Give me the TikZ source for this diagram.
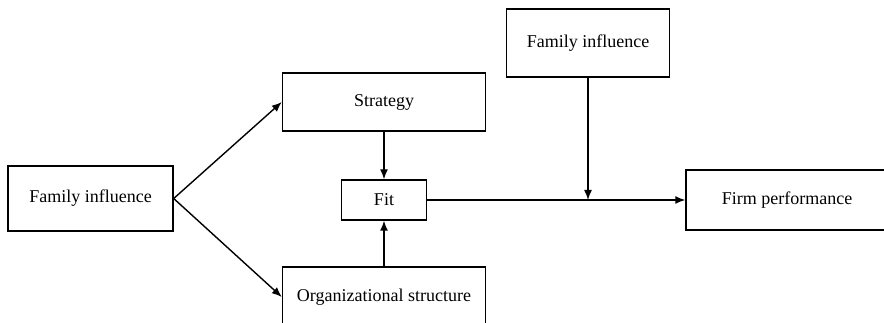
\documentclass[tikz,border=0pt]{standalone}
\usepackage{fontspec}
\setmainfont{Liberation Serif}
\usetikzlibrary{arrows.meta}
\begin{document}
\begin{tikzpicture}[x=1pt,y=-1pt,
  box/.style={draw,line width=1.4pt,inner sep=0pt,font=\fontsize{18}{21}\selectfont},
  link/.style={line width=1.4pt,-{Latex[length=10pt,width=8pt]}}]
  \useasboundingbox (0,0) rectangle (884,323);
  \clip (0,0) rectangle (884,323);
  \node[box,minimum width=165pt,minimum height=65pt] (fam) at (90.5,198.5) {Family influence};
  \node[box,minimum width=203pt,minimum height=58pt] (strat) at (384,102) {Strategy};
  \node[box,minimum width=85pt,minimum height=40pt] (fit) at (384,200) {Fit};
  \node[box,minimum width=203pt,minimum height=60pt] (org) at (384,297) {Organizational structure};
  \node[box,minimum width=163pt,minimum height=68pt] (famtop) at (588,43) {Family influence};
  \node[box,minimum width=202pt,minimum height=60pt] (perf) at (787,200) {Firm performance};
  \coordinate (mod) at (famtop.south |- fit.east);
  \draw[link] (fam.east) -- (strat.west);
  \draw[link] (fam.east) -- (org.west);
  \draw[link] (strat.south) -- (fit.north);
  \draw[link] (org.north) -- (fit.south);
  \draw[link] (fit.east) -- (perf.west);
  \draw[link] (famtop.south) -- (mod);
\end{tikzpicture}
\end{document}
